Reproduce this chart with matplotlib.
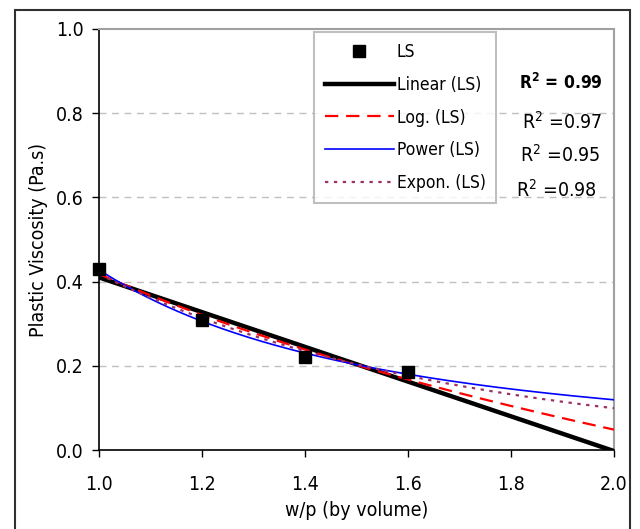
import numpy as np
import matplotlib
matplotlib.use("Agg")
import matplotlib.pyplot as plt
from matplotlib.patches import Rectangle
from matplotlib.lines import Line2D

# measured points (LS)
wp = np.array([1.0, 1.2, 1.4, 1.6])
visc = np.array([0.43, 0.31, 0.22, 0.185])

r2_labels = ["0.99", "0.97", "0.95", "0.98"]
trend_names = ["Linear (LS)", "Log. (LS)", "Power (LS)", "Expon. (LS)"]

plt.rcParams['font.family'] = ['DejaVu Sans']
plt.rcParams['font.stretch'] = 'condensed'

fig = plt.figure(figsize=(6.4, 5.29), dpi=100)
ax = fig.add_axes([0.1547, 0.1493, 0.8047, 0.7959])

# trend lines fitted to the points, like Excel does
xs = np.linspace(1.0, 2.0, 200)
lin = np.polyfit(wp, visc, 1)
y_lin = np.polyval(lin, xs)
lg = np.polyfit(np.log(wp), visc, 1)
y_log = lg[0] * np.log(xs) + lg[1]
pw = np.polyfit(np.log(wp), np.log(visc), 1)
y_pow = np.exp(pw[1]) * xs ** pw[0]
ex = np.polyfit(wp, np.log(visc), 1)
y_exp = np.exp(ex[1]) * np.exp(ex[0] * xs)

ax.plot(xs, y_lin, color='black', lw=3.2, zorder=3)
ax.plot(xs, y_log, color='#ff0000', lw=1.6, dashes=(6, 3.5), zorder=3)
ax.plot(xs, y_pow, color='#0000ff', lw=1.2, zorder=3)
ax.plot(xs, y_exp, color='#993366', lw=1.6, dashes=(1.5, 2.5), zorder=3)
ax.plot(wp, visc, 's', color='black', ms=8, clip_on=False, zorder=4)

ax.set_xlim(1.0, 2.0)
ax.set_ylim(0.0, 1.0)
ax.set_xticks(np.arange(1.0, 2.01, 0.2))
ax.set_yticks(np.arange(0.0, 1.01, 0.2))
ax.set_xticklabels([f"{v:.1f}" for v in np.arange(1.0, 2.01, 0.2)])
ax.set_yticklabels([f"{v:.1f}" for v in np.arange(0.0, 1.01, 0.2)])
ax.tick_params(labelsize=14, length=5, width=1, direction='out', pad=13)
ax.tick_params(axis='y', pad=6)

for g in [0.2, 0.4, 0.6, 0.8]:
    ax.axhline(g, color='#c0c0c0', lw=1, dashes=(5, 4), zorder=1)

ax.spines['top'].set_color('#a0a0a0')
ax.spines['right'].set_color('#a0a0a0')
ax.spines['top'].set_linewidth(1.5)
ax.spines['right'].set_linewidth(1.5)
ax.spines['left'].set_linewidth(1.2)
ax.spines['bottom'].set_linewidth(1.2)

ax.set_xlabel("w/p (by volume)", fontsize=14, labelpad=5)
ax.set_ylabel("Plastic Viscosity (Pa.s)", fontsize=14, labelpad=6)

handles = [
    Line2D([], [], ls='none', marker='s', color='black', ms=8),
    Line2D([], [], color='black', lw=3.2),
    Line2D([], [], color='#ff0000', lw=1.6, dashes=(6, 3.5)),
    Line2D([], [], color='#0000ff', lw=1.2),
    Line2D([], [], color='#993366', lw=1.6, dashes=(1.5, 2.5)),
]
leg = ax.legend(handles, ["LS"] + trend_names, loc='upper left',
                bbox_to_anchor=(0.417, 0.993), borderaxespad=0,
                fontsize=12.5, frameon=True,
                fancybox=False, edgecolor='#b0b0b0', handlelength=4.0,
                handletextpad=0.15, labelspacing=0.86, borderpad=0.62)
leg.get_frame().set_linewidth(1.5)

r2_y = [0.872, 0.78, 0.70, 0.617]
r2_x = [0.979, 0.977, 0.973, 0.967]
for i, (lab, yy, xx) in enumerate(zip(r2_labels, r2_y, r2_x)):
    if i == 0:
        ax.text(xx, yy, f"R$^\\mathbf{{2}}$ = {lab}", transform=ax.transAxes,
                ha='right', va='center', fontsize=12.5, fontweight='bold')
    else:
        ax.text(xx, yy, f"R$^2$ ={lab}", transform=ax.transAxes,
                ha='right', va='center', fontsize=14)

# outer chart frame
fig.patches.append(Rectangle((15 / 640, -0.1), 615 / 640, 1.1 - 10 / 529,
                             transform=fig.transFigure, fill=False,
                             edgecolor='#303030', lw=1.5))

fig.savefig("out.png", dpi=100)
